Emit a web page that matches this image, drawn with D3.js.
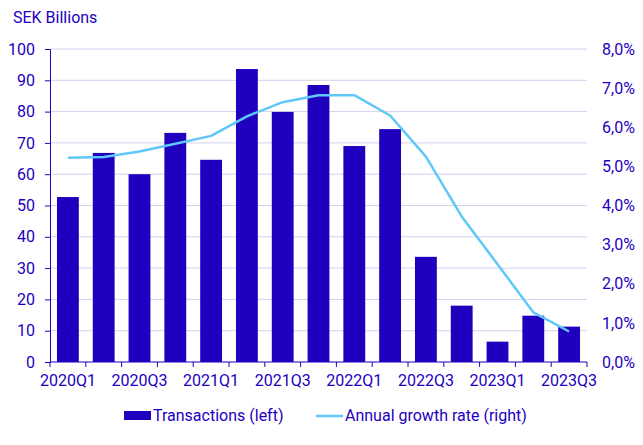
<!DOCTYPE html>
<html>
<head>
<meta charset="utf-8">
<script src="https://cdn.jsdelivr.net/npm/d3@7"></script>
<style>
body { margin: 0; background: #fff; }
text { font-family: Roboto, "Noto Sans", sans-serif; }
</style>
</head>
<body>
<div id="chart"></div>
<script>
var quarters = ["2020Q1","2020Q2","2020Q3","2020Q4","2021Q1","2021Q2","2021Q3","2021Q4","2022Q1","2022Q2","2022Q3","2022Q4","2023Q1","2023Q2","2023Q3"]
var transactions = [52.7, 66.8, 60.0, 73.2, 64.6, 93.6, 79.9, 88.5, 69.0, 74.4, 33.6, 18.0, 6.5, 14.8, 11.3]
var growth = [5.22, 5.24, 5.38, 5.58, 5.78, 6.28, 6.64, 6.82, 6.82, 6.30, 5.25, 3.72, 2.50, 1.27, 0.78]
var leftTicks = [0,10,20,30,40,50,60,70,80,90,100]
var rightTicks = [0,1,2,3,4,5,6,7,8]
var shownQuarters = ["2020Q1","2020Q3","2021Q1","2021Q3","2022Q1","2022Q3","2023Q1","2023Q3"]

var W = 643, H = 445
var m = { left: 50, right: 56, top: 49, bottom: 83 }
var blue = "#1e00be", light = "#5fc8f8", grid = "#d4d0ee"
var fs = "16px"

var svg = d3.select("#chart").append("svg").attr("width", W).attr("height", H)

var x = d3.scaleBand().domain(quarters).range([m.left, W - m.right]).paddingInner(0.39).paddingOuter(0.195)
var xb = d3.scaleBand().domain(quarters).range([m.left, W - m.right])
var yL = d3.scaleLinear().domain([0, 100]).range([H - m.bottom, m.top])
var yR = d3.scaleLinear().domain([0, 8]).range([H - m.bottom, m.top])

// grid
svg.append("g").selectAll("line").data(leftTicks.slice(1)).enter().append("line")
	.attr("x1", m.left).attr("x2", W - m.right)
	.attr("y1", function(d){ return yL(d) }).attr("y2", function(d){ return yL(d) })
	.attr("stroke", grid).attr("stroke-width", 1)

// bars
svg.append("g").selectAll("rect").data(transactions).enter().append("rect")
	.attr("x", function(d,i){ return x(quarters[i]) })
	.attr("width", x.bandwidth())
	.attr("y", function(d){ return yL(d) })
	.attr("height", function(d){ return yL(0) - yL(d) })
	.attr("fill", blue)

// line
var line = d3.line().x(function(d,i){ return xb(quarters[i]) + xb.bandwidth() / 2 }).y(function(d){ return yR(d) })
svg.append("path").datum(growth).attr("d", line)
	.attr("fill", "none").attr("stroke", light).attr("stroke-width", 2.5).attr("stroke-linejoin", "round")

// left axis
var gL = svg.append("g").attr("transform", "translate(" + m.left + ",0)")
	.call(d3.axisLeft(yL).tickValues(leftTicks).tickSize(5).tickPadding(10))
gL.select(".domain").attr("stroke", blue)
gL.selectAll(".tick line").attr("stroke", blue)
gL.selectAll("text").attr("fill", blue).style("font-size", fs)

// right axis
var gR = svg.append("g").attr("transform", "translate(" + (W - m.right) + ",0)")
	.call(d3.axisRight(yR).tickValues(rightTicks).tickSize(0).tickPadding(15).tickFormat(function(d){ return d3.format(".1f")(d).replace(".", ",") + "%" }))
gR.select(".domain").remove()
gR.selectAll("text").attr("fill", blue).style("font-size", fs)

// bottom axis
var gB = svg.append("g").attr("transform", "translate(0," + (H - m.bottom) + ")")
gB.append("line").attr("x1", m.left).attr("x2", W - m.right).attr("stroke", blue)
gB.selectAll(".tk").data(quarters.concat(["end"])).enter().append("line")
	.attr("x1", function(d,i){ return i < quarters.length ? xb(d) : W - m.right })
	.attr("x2", function(d,i){ return i < quarters.length ? xb(d) : W - m.right })
	.attr("y1", 0).attr("y2", 5).attr("stroke", blue)
gB.selectAll("text").data(shownQuarters).enter().append("text")
	.attr("x", function(d){ return xb(d) + xb.bandwidth() / 2 })
	.attr("y", 24).attr("text-anchor", "middle")
	.attr("fill", blue).style("font-size", fs).text(function(d){ return d })

// title
svg.append("text").attr("x", 13).attr("y", 23).attr("fill", blue).style("font-size", fs).text("SEK Billions")

// legend
var lg = svg.append("g")
lg.append("rect").attr("x", 124).attr("y", 411).attr("width", 27).attr("height", 9).attr("fill", blue)
lg.append("text").attr("x", 153).attr("y", 421).attr("fill", blue).style("font-size", fs).text("Transactions (left)")
lg.append("line").attr("x1", 316).attr("x2", 343).attr("y1", 416).attr("y2", 416).attr("stroke", light).attr("stroke-width", 2.5)
lg.append("text").attr("x", 345).attr("y", 421).attr("fill", blue).style("font-size", fs).text("Annual growth rate (right)")
</script>
</body>
</html>
